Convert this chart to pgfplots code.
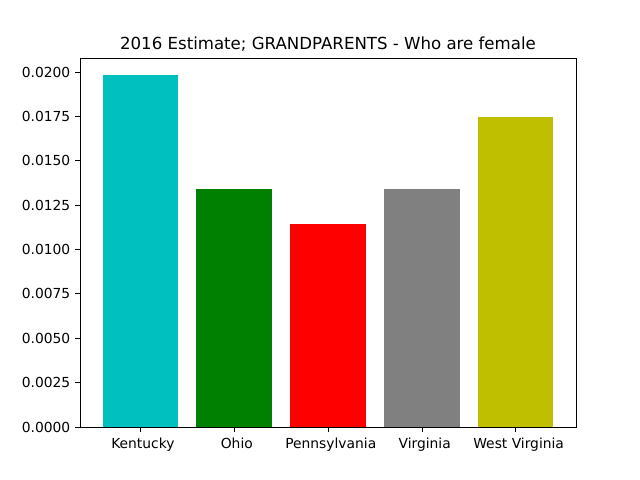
\documentclass[border=0pt]{standalone}
\usepackage{fontspec}
\setmainfont{DejaVu Sans}
\usepackage{pgfplots}
\pgfplotsset{compat=1.18}
\definecolor{mc}{rgb}{0,0.75,0.75}
\definecolor{mg}{rgb}{0,0.5,0}
\definecolor{mr}{rgb}{1,0,0}
\definecolor{mgray}{rgb}{0.5,0.5,0.5}
\definecolor{my}{rgb}{0.75,0.75,0}
\begin{document}
\begin{tikzpicture}
\path[use as bounding box] (0,0) rectangle (6.4in,4.8in);
\begin{axis}[
  at={(0.8in,0.53in)}, anchor=south west,
  scale only axis, width=4.96in, height=3.69in,
  xmin=-0.64, xmax=4.64, ymin=0, ymax=0.020789,
  xtick={0,1,2,3,4},
  xticklabels={Kentucky, Ohio, Pennsylvania, Virginia, West Virginia},
  ytick={0,0.0025,0.005,0.0075,0.01,0.0125,0.015,0.0175,0.02},
  scaled y ticks=false,
  yticklabel style={/pgf/number format/.cd, fixed, fixed zerofill, precision=4},
  xticklabel style={xshift=2pt, yshift=-1pt},
  /pgf/number format/assume math mode=true,
  tick label style={font=\fontsize{10}{12}\selectfont},
  tick align=outside, major tick length=3.5pt,
  xtick pos=bottom, ytick pos=left,
  title={2016 Estimate; GRANDPARENTS - Who are female},
  title style={font=\fontsize{12}{14}\selectfont, yshift=-5pt},
  axis line style={line width=0.6pt},
  tick style={line width=0.6pt, black},
  ybar, bar width=0.8, bar shift=0pt,
]
\addplot[fill=mc, draw=none] coordinates {(0,0.01983)};
\addplot[fill=mg, draw=none] coordinates {(1,0.01341)};
\addplot[fill=mr, draw=none] coordinates {(2,0.01144)};
\addplot[fill=mgray, draw=none] coordinates {(3,0.01341)};
\addplot[fill=my, draw=none] coordinates {(4,0.01748)};
\end{axis}
\end{tikzpicture}
\end{document}
